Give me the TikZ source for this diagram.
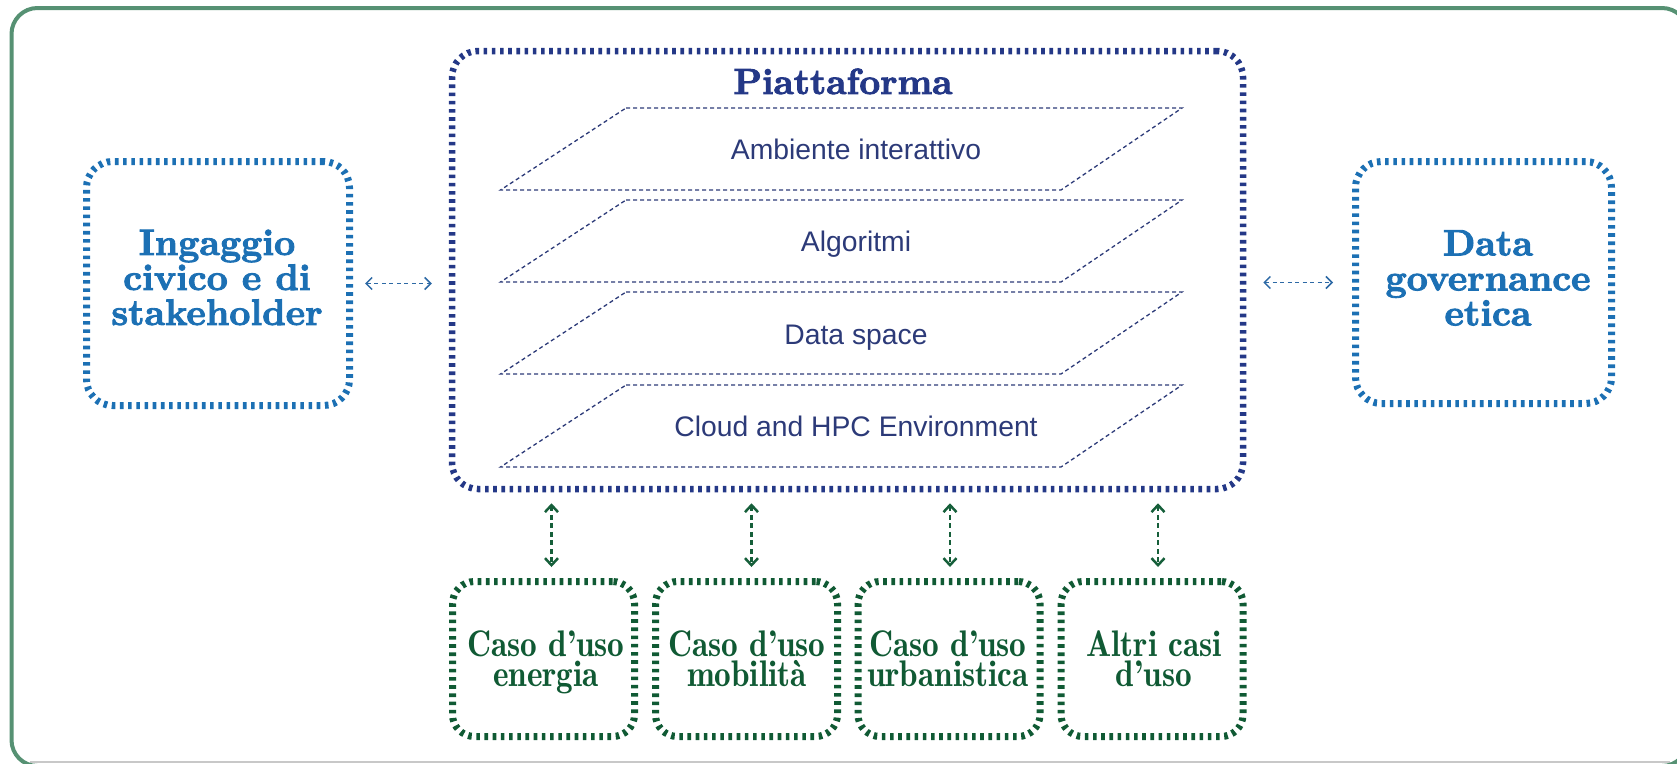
\documentclass[tikz,border=0pt]{standalone}
\usepackage{fontspec}
\usepackage{graphicx}
\newfontfamily\layerfont{Liberation Sans}
\newfontfamily\heavyserif{lmroman10-bold.otf}[FakeBold=2.4]
\newfontfamily\condserif{lmromandemi10-regular.otf}[FakeStretch=0.9]
\usetikzlibrary{arrows.meta}
\definecolor{framegreen}{RGB}{86,145,115}
\definecolor{sideblue}{RGB}{28,112,180}
\definecolor{navy}{RGB}{36,56,135}
\definecolor{layernavy}{RGB}{44,58,120}
\definecolor{usegreen}{RGB}{16,90,52}
\definecolor{arrowblue}{RGB}{45,105,165}
\definecolor{arrowgreen}{RGB}{22,95,58}
\definecolor{edgegray}{RGB}{200,200,200}
\tikzset{
  framebox/.style={draw=framegreen, line width=4pt, rounded corners=26pt},
  sidebox/.style={draw=sideblue, line width=7pt, outer sep=3.5pt, dash pattern=on 3.6pt off 4.6pt, rounded corners=26pt, inner sep=0pt},
  platbox/.style={draw=navy, line width=6.5pt, outer sep=3.25pt, dash pattern=on 3.6pt off 4.6pt, rounded corners=26pt, inner sep=0pt, minimum width=791pt, minimum height=438pt},
  usebox/.style={draw=usegreen, line width=7pt, outer sep=3.5pt, dash pattern=on 3.6pt off 4.6pt, rounded corners=22pt, inner sep=0pt, minimum width=182pt, minimum height=155pt},
  sidetext/.style={text=sideblue, font=\fontsize{36.8}{35}\selectfont\heavyserif, align=center, inner sep=0pt, anchor=north},
  usetext/.style={text=usegreen, font=\fontsize{37}{30}\selectfont\condserif, align=center, inner sep=0pt, anchor=north},
  titletext/.style={text=navy, font=\fontsize{36.3}{40}\selectfont\heavyserif, inner sep=0pt, anchor=base},
  layertext/.style={text=layernavy, font=\fontsize{28.3}{34}\selectfont\layerfont, inner sep=0pt, anchor=base},
  layer/.style={draw=layernavy, line width=1.3pt, dash pattern=on 4pt off 3pt},
  harrow/.style={draw=arrowblue, line width=1.5pt, dash pattern=on 4pt off 3.5pt, <->, >={Straight Barb[length=6pt,width=12pt]}},
  varrow/.style={draw=arrowgreen, line width=2.5pt, dash pattern=on 5pt off 3.5pt, <->, >={Straight Barb[length=7pt,width=13pt]}},
}
\begin{document}
\begin{tikzpicture}[x=1pt,y=-1pt]
\useasboundingbox (0,0) rectangle (1677,763);
\begin{scope}
  \clip (0,0) rectangle (1677,763);
  \draw[edgegray, line width=1.5pt] (30,762) -- (1670,762);
  \draw[framebox] (11.5,8) rectangle (1688,766);
\end{scope}

% boxes
\node[sidebox, minimum width=263pt, minimum height=244pt] (ing) at (218,283.5) {};
\node[sidebox, minimum width=256pt, minimum height=242pt] (dg) at (1483.5,282.5) {};
\node[platbox] (plat) at (847.5,270) {};
\node[usebox] (u1) at (543.5,659) {};
\node[usebox] (u2) at (746.5,659) {};
\node[usebox] (u3) at (949,659) {};
\node[usebox] (u4) at (1152,659) {};

% layers
\foreach \t in {108,200,292,385}
  \draw[layer] (626,\t) -- (1182,\t) -- (1061,{\t+82}) -- (500.5,{\t+82}) -- cycle;

% texts
\node[sidetext] (ingt) at (217,229.5) {Ingaggio\\civico e di\\stakeholder};
\node[sidetext] (dgt) at (1488,230) {Data\\governance\\etica};
\node[titletext] (title) at (843,94) {Piattaforma};
\node[layertext] (l1t) at (856,159) {Ambiente interattivo};
\node[layertext] (l2t) at (856,251) {Algoritmi};
\node[layertext] (l3t) at (856,344) {Data space};
\node[layertext] (l4t) at (856,436) {Cloud and HPC Environment};
\node[usetext] (u1t) at (546,630) {Caso d’uso\\energia};
\node[usetext] (u2t) at (747,630) {Caso d’uso\\mobilità};
\node[usetext] (u3t) at (948,630) {Caso d’uso\\urbanistica};
\node[usetext] (u4t) at (1154,630) {Altri casi\\d’uso};

% connectors
\draw[harrow, shorten <=12pt, shorten >=17pt] (ing.east) -- (ing.east -| plat.west);
\draw[harrow, shorten <=17pt, shorten >=19pt] (dg.west -| plat.east) -- (dg.west);
\draw[varrow, shorten <=11pt, shorten >=11pt] ([xshift=8pt]u1.north |- plat.south) -- ([xshift=8pt]u1.north);
\draw[varrow, shorten <=11pt, shorten >=11pt] ([xshift=5pt]u2.north |- plat.south) -- ([xshift=5pt]u2.north);
\draw[varrow, shorten <=11pt, shorten >=11pt] ([xshift=1pt]u3.north |- plat.south) -- ([xshift=1pt]u3.north);
\draw[varrow, shorten <=11pt, shorten >=11pt] ([xshift=6pt]u4.north |- plat.south) -- ([xshift=6pt]u4.north);
\end{tikzpicture}
\end{document}
